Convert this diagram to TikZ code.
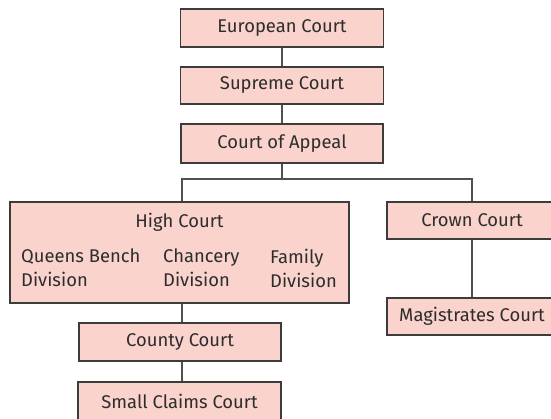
\documentclass[tikz,border=0pt]{standalone}
\usepackage{fontspec}
\setmainfont{Fira Sans}
\definecolor{boxfill}{RGB}{249,211,204}
\definecolor{boxline}{RGB}{60,60,60}
\definecolor{wire}{RGB}{80,80,80}
\definecolor{ink}{RGB}{45,45,45}
\begin{document}
\begin{tikzpicture}[x=1pt,y=-1pt,
  court/.style={draw=boxline, fill=boxfill, line width=1.4pt, text=ink,
    inner sep=0pt, font=\fontsize{18.4}{22}\selectfont},
  link/.style={draw=wire, line width=2pt}]
\useasboundingbox (0,0) rectangle (551,418);

% junction points of the tree
\coordinate (bus) at (282,179);
\coordinate (hx) at (182,0);

% court boxes
\node[court, minimum width=203, minimum height=38] (eu) at (282,28) {European Court};
\node[court, minimum width=203, minimum height=37] (sup) at (282,85.5) {Supreme Court};
\node[court, minimum width=202, minimum height=39] (app) at (282,143.5) {Court of Appeal};
\node[court, minimum width=339, minimum height=101] (high) at (179.5,252.5) {};
\node[court, minimum width=170, minimum height=37] (crown) at (472,220.5) {Crown Court};
\node[court, minimum width=170, minimum height=37] (mag) at (472,316.5) {Magistrates Court};
\node[court, minimum width=202, minimum height=38] (county) at (180,342) {County Court};
\node[court, minimum width=203, minimum height=38] (small) at (179.5,401) {Small Claims Court};

% text inside the High Court box
\begin{scope}[every node/.style={text=ink, inner sep=0pt,
    font=\fontsize{18.4}{24}\selectfont, align=left}]
\node (hc) at (179.5,222) {High Court};
\node[anchor=west] (qb) at (21,268) {Queens Bench\\Division};
\node[anchor=west] (ch) at (163,268) {Chancery\\Division};
\node[anchor=west] (fa) at (270,268) {Family\\Division};
\end{scope}

% connectors
\draw[link] (eu) -- (sup);
\draw[link] (sup) -- (app);
\draw[link] (app) -- (bus);
\draw[link] (hx |- high.north) -- (hx |- bus) -- (crown.north |- bus) -- (crown.north);
\draw[link] (crown) -- (mag);
\draw[link] (hx |- high.south) -- (hx |- county.north);
\draw[link] (hx |- county.south) -- (hx |- small.north);
\end{tikzpicture}
\end{document}
